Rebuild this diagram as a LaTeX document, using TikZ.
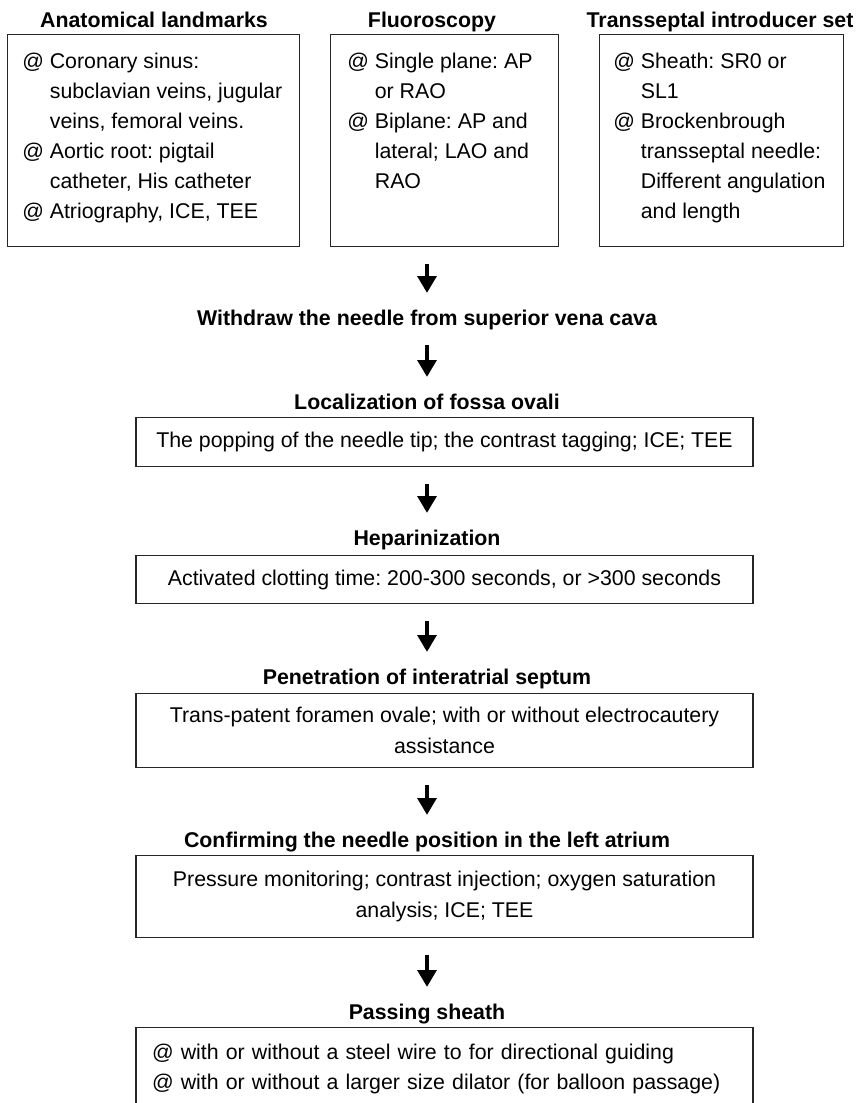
\documentclass[tikz,border=0pt]{standalone}
\usepackage{fontspec}
\setmainfont{Liberation Sans}
\usetikzlibrary{positioning,arrows.meta}
\frenchspacing

\newcommand{\hangat}{\hphantom{@ }}

\begin{document}
\begin{tikzpicture}[
  x=0.75pt, y=-0.75pt,
  framebox/.style={draw=black!85, line width=1pt, inner sep=0pt, anchor=north west, minimum height=159pt},
  headtxt/.style={font=\fontsize{16}{20}\selectfont\bfseries, inner sep=0pt, text height=12pt, text depth=3.5pt},
  itemlist/.style={font=\fontsize{16}{22.5}\selectfont, align=left, inner sep=0pt, anchor=north west},
  stepbox/.style={draw=black!85, line width=1pt, minimum width=462.75pt, align=center, font=\fontsize{16}{23.5}\selectfont, anchor=north},
  arr/.style={-{Triangle[width=14pt,length=12.5pt]}, line width=2.6pt, shorten <=12.75pt, shorten >=12.4pt}
]
\useasboundingbox (0,0) rectangle (858,1103);
\clip (0,0) rectangle (858,1103);

\node[headtxt] (anathead) at (154,22) {Anatomical landmarks};
\node[headtxt] (fluorohead) at (432,22) {Fluoroscopy};
\node[headtxt] (introhead) at (720,22) {Transseptal introducer set};

\node[framebox, minimum width=219pt] (anat) at (7,34) {};
\node[framebox, minimum width=171pt] (fluoro) at (330,34) {};
\node[framebox, minimum width=183pt] (intro) at (599,34) {};
\node[itemlist] (anatlist) at ([shift={(15,19)}]anat.north west) {@ Coronary sinus:\\\hangat subclavian veins, jugular\\\hangat veins, femoral veins.\\@ Aortic root: pigtail\\\hangat catheter, His catheter\\@ Atriography, ICE, TEE};
\node[itemlist] (fluorolist) at ([shift={(17,19)}]fluoro.north west) {@ Single plane: AP\\\hangat or RAO\\@ Biplane: AP and\\\hangat lateral; LAO and\\\hangat RAO};
\node[itemlist] (introlist) at ([shift={(14,19)}]intro.north west) {@ Sheath: SR0 or\\\hangat SL1\\@ Brockenbrough\\\hangat transseptal needle:\\\hangat Different angulation\\\hangat and length};

\node[headtxt] (withdraw) at (427,320) {Withdraw the needle from superior vena cava};
\node[headtxt] (loc) at (427,404) {Localization of fossa ovali};
\node[stepbox, minimum height=36.75pt] (locbox) at (444.5,417) {The popping of the needle tip; the contrast tagging; ICE; TEE};
\node[headtxt] (hep) at (427,540) {Heparinization};
\node[stepbox, minimum height=36pt] (hepbox) at (444.5,555) {Activated clotting time: 200-300 seconds, or >300 seconds};
\node[headtxt] (pen) at (427,679) {Penetration of interatrial septum};
\node[stepbox, minimum height=55.5pt] (penbox) at (444.5,693) {Trans-patent foramen ovale; with or without electrocautery\\assistance};
\node[headtxt] (conf) at (427,842) {Confirming the needle position in the left atrium};
\node[stepbox, minimum height=61.5pt] (confbox) at (444.5,855) {Pressure monitoring; contrast injection; oxygen saturation\\analysis; ICE; TEE};
\node[headtxt] (pass) at (427,1014) {Passing sheath};
\node[stepbox, minimum height=61.5pt, align=left, text width=438.75pt, inner xsep=12pt, font=\fontsize{16}{22.5}\selectfont] (passbox) at (444.5,1027) {@ with or without a steel wire to for directional guiding\\@ with or without a larger size dilator (for balloon passage)};

\draw[arr] (fluoro.south -| withdraw) -- (withdraw.north);
\draw[arr, shorten <=11pt] (withdraw.south) -- (loc.north);
\draw[arr] (locbox.south -| hep) -- (hep.north);
\draw[arr] (hepbox.south -| pen) -- (pen.north);
\draw[arr] (penbox.south -| conf) -- (conf.north);
\draw[arr] (confbox.south -| pass) -- (pass.north);
\end{tikzpicture}
\end{document}
